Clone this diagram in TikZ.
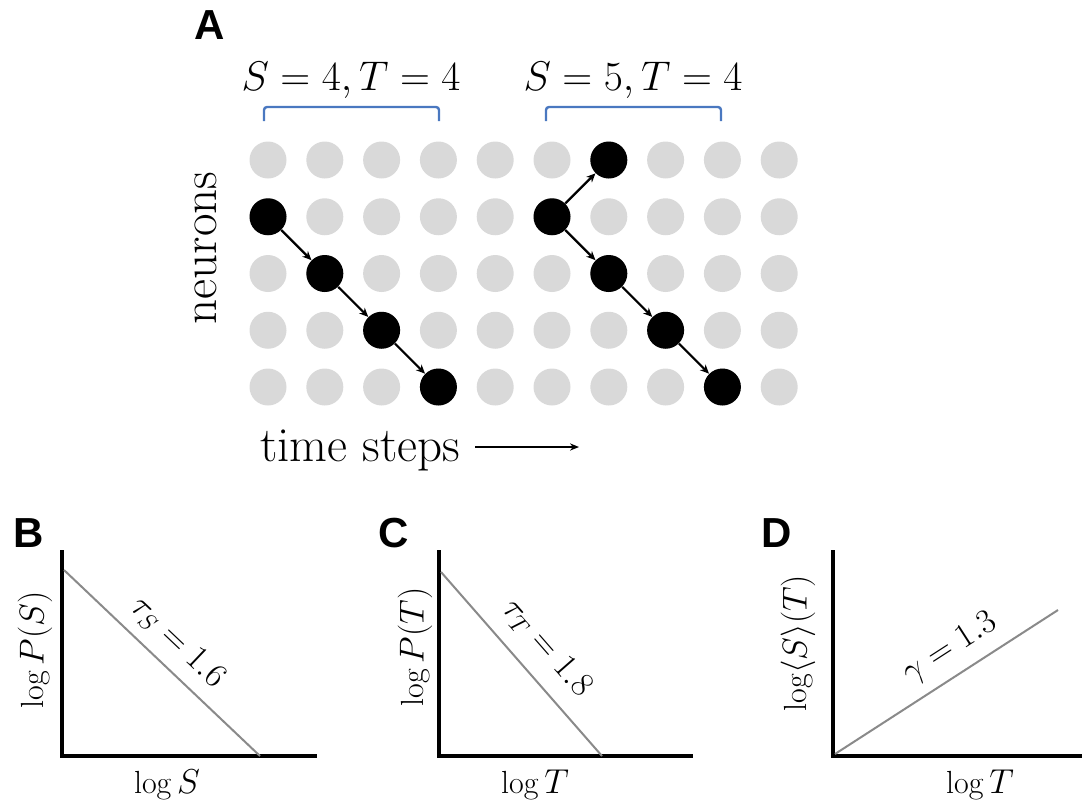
\documentclass[tikz,border=0pt]{standalone}
\usepackage{fontspec}
\newfontfamily\labfont{Liberation Sans}
\usetikzlibrary{arrows.meta}
\definecolor{dotgray}{HTML}{D9D9D9}
\definecolor{brblue}{HTML}{4A78C0}
\definecolor{linegray}{HTML}{8A8A8A}
\begin{document}
\begin{tikzpicture}[x=0.5pt,y=-0.5pt,
  dot/.style={circle,fill=dotgray,minimum size=18.5pt,inner sep=0pt},
  spike/.style={circle,fill=black,minimum size=18.5pt,inner sep=0pt},
  flow/.style={-{Stealth[length=4.5pt,width=4pt]},line width=1.1pt},
  panel/.style={font=\labfont\bfseries\fontsize{21}{25}\selectfont},
  big/.style={font=\fontsize{24.5}{28}\selectfont},
  mathhead/.style={font=\fontsize{22}{26}\selectfont},
  axlab/.style={font=\fontsize{16}{19}\selectfont},
  slab/.style={text=black,font=\fontsize{18}{21}\selectfont},
  axisline/.style={line width=2pt},
  fitline/.style={linegray,line width=1pt},
  bracket/.style={brblue,line width=1.2pt,rounded corners=1.5pt}]
\path[use as bounding box] (0,0) rectangle (1082,805);

% ---------- panel A ----------
\node[panel] (lA) at (210,25) {A};
\node[mathhead,anchor=base] (h1) at (351,90) {$S=4, T=4$};
\node[mathhead,anchor=base] (h2) at (633,90) {$S=5, T=4$};
\draw[bracket] (264,121) -- (264,107) -- (439,107) -- (439,121);
\draw[bracket] (546,121) -- (546,107) -- (721,107) -- (721,121);

\foreach \c in {1,...,10}
  \foreach \r in {1,...,5}
    \node[dot] (g-\c-\r) at ({268+56.8*(\c-1)},{160+56.75*(\r-1)}) {};

\node[spike] (s1) at (g-1-2) {};
\node[spike] (s2) at (g-2-3) {};
\node[spike] (s3) at (g-3-4) {};
\node[spike] (s4) at (g-4-5) {};
\draw[flow] (s1) -- (s2);
\draw[flow] (s2) -- (s3);
\draw[flow] (s3) -- (s4);

\node[spike] (t1) at (g-6-2) {};
\node[spike] (t2) at (g-7-1) {};
\node[spike] (t3) at (g-7-3) {};
\node[spike] (t4) at (g-8-4) {};
\node[spike] (t5) at (g-9-5) {};
\draw[flow] (t1) -- (t2);
\draw[flow] (t1) -- (t3);
\draw[flow] (t3) -- (t4);
\draw[flow] (t4) -- (t5);

\node[big,rotate=90] (ny) at (206,248) {neurons};
\node[big,anchor=base west,inner sep=0pt] (ts) at (260,461) {time steps};
\coordinate (ta0) at (475,447);
\coordinate (ta1) at (579,447);
\draw[-{Stealth[length=4.5pt,width=3.6pt]},line width=0.7pt] (ta0) -- (ta1);

% ---------- panel B ----------
\node[panel] (lB) at (29,533) {B};
\coordinate (bo) at (62,756);
\coordinate (bt) at (62,550);
\coordinate (br) at (317,756);
\draw[axisline] (bt) -- (bo) -- (br);
\coordinate (b1) at (64,570);
\coordinate (b2) at (260,756);
\draw[fitline] (b1) -- node[slab,sloped,above=2pt,pos=0.49] (bs) {$\tau_S = 1.6$} (b2);
\node[axlab] (bx) at (167,785) {$\log S$};
\node[axlab,rotate=90] (by) at (35,650) {$\log P(S)$};

% ---------- panel C ----------
\node[panel] (lC) at (394,533) {C};
\coordinate (co) at (439,756);
\coordinate (ct) at (439,550);
\coordinate (cr) at (693,756);
\draw[axisline] (ct) -- (co) -- (cr);
\coordinate (c1) at (441,572);
\coordinate (c2) at (602,756);
\draw[fitline] (c1) -- node[slab,sloped,above=4pt,pos=0.52] (cs) {$\tau_T = 1.8$} (c2);
\node[axlab] (cx) at (535,785) {$\log T$};
\node[axlab,rotate=90] (cy) at (415,647) {$\log P(T)$};

% ---------- panel D ----------
\node[panel] (lD) at (777,533) {D};
\coordinate (do) at (833,756);
\coordinate (dt) at (833,550);
\coordinate (dr) at (1082,756);
\draw[axisline] (dt) -- (do) -- (dr);
\coordinate (d1) at (835,754);
\coordinate (d2) at (1058,610);
\draw[fitline] (d1) -- node[slab,sloped,above=2pt,pos=0.58] (ds) {$\gamma = 1.3$} (d2);
\node[axlab] (dx) at (980,785) {$\log T$};
\node[axlab,rotate=90] (dy) at (798,643) {$\log\langle S\rangle(T)$};
\end{tikzpicture}
\end{document}
